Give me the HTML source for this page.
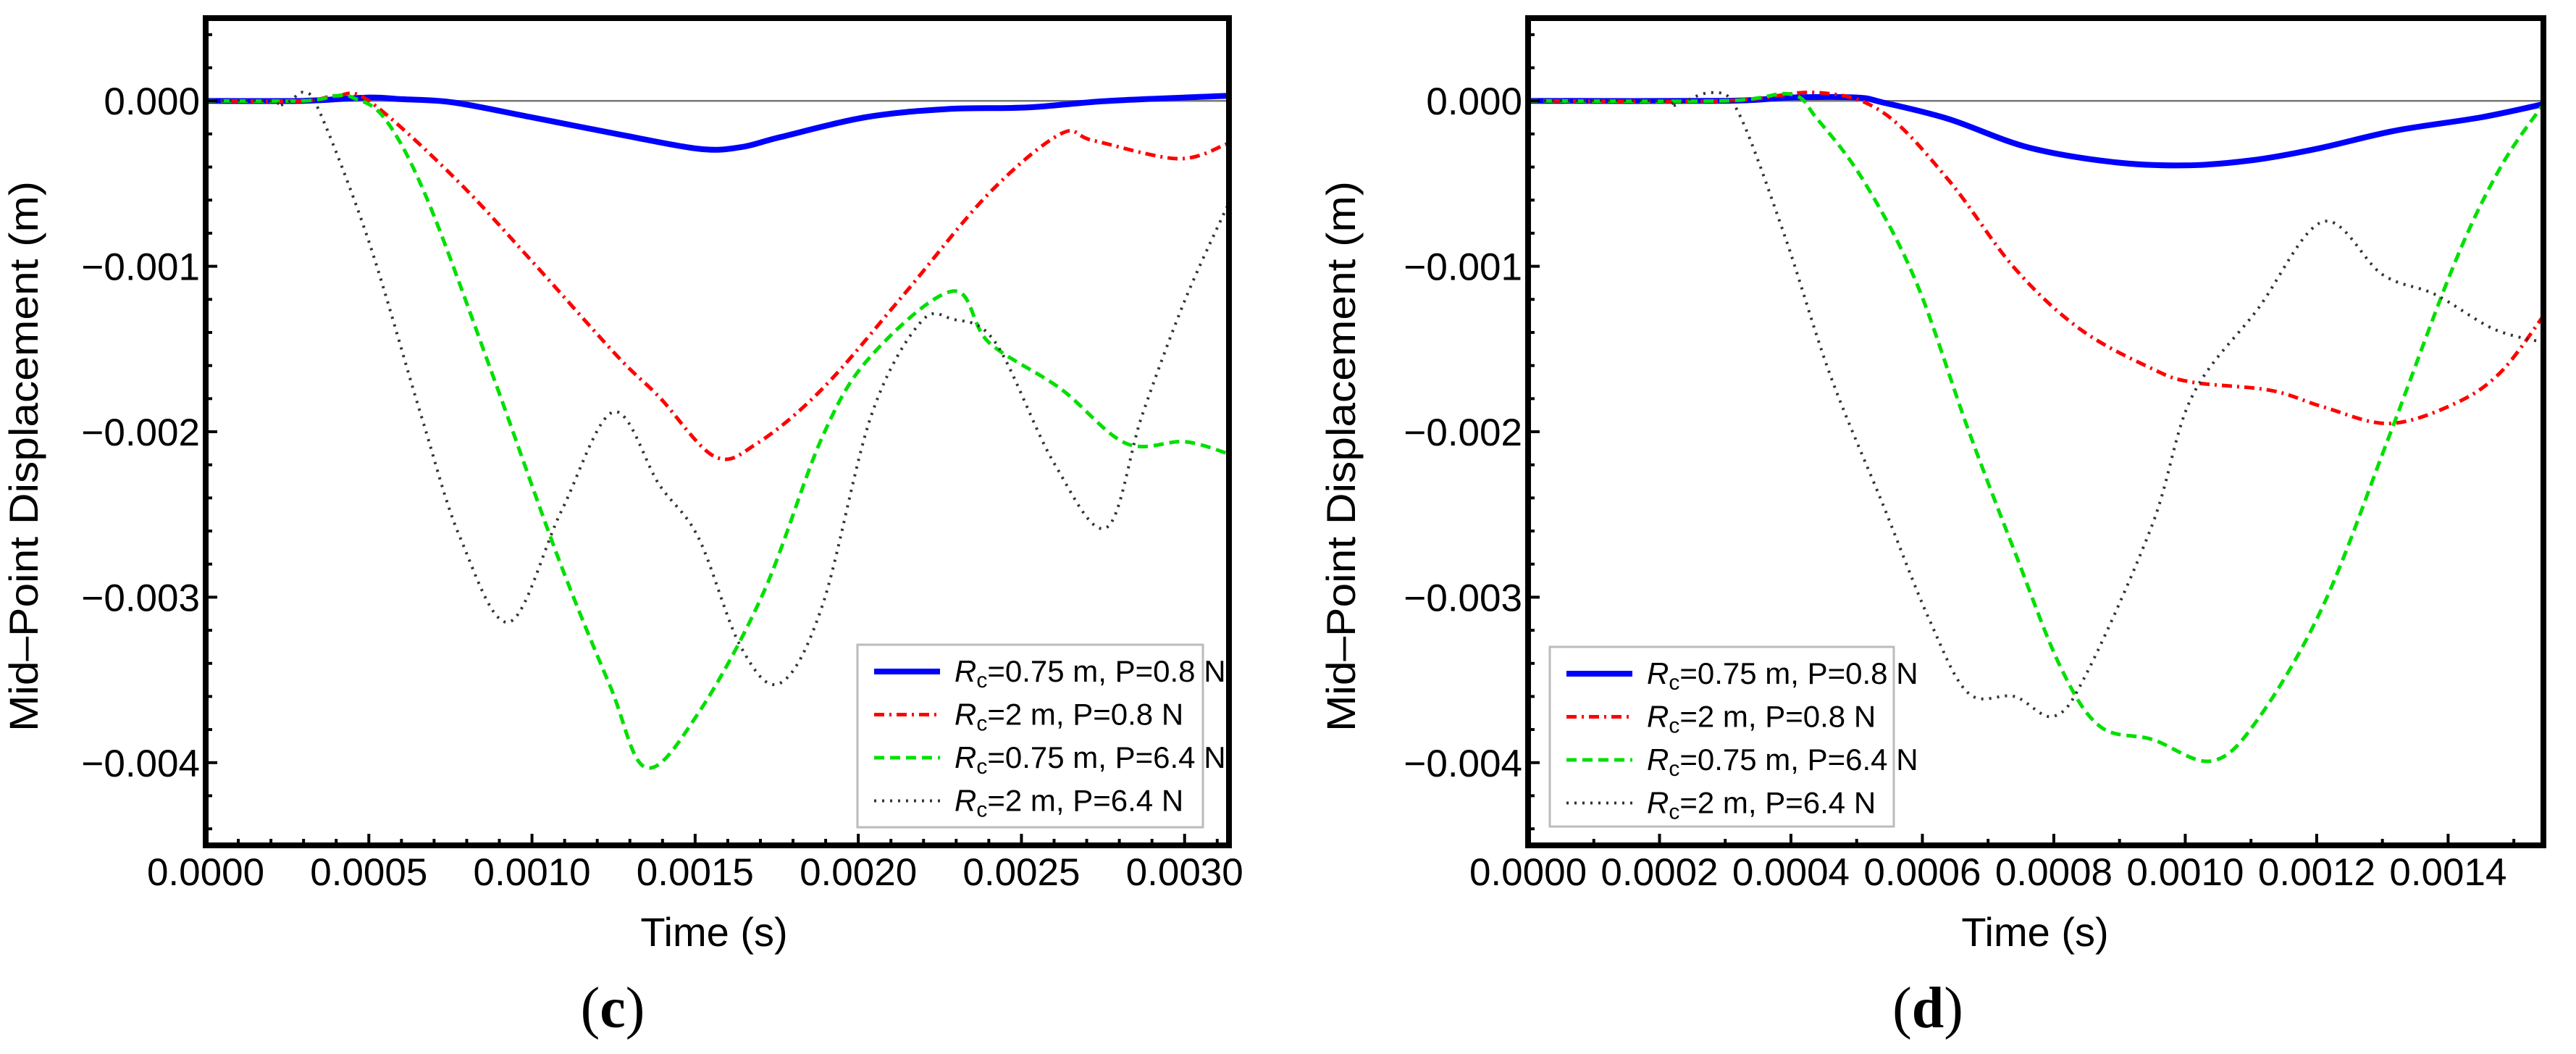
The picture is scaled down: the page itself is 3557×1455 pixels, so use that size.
<!DOCTYPE html>
<html><head><meta charset="utf-8"><style>
html,body{margin:0;padding:0;background:#fff;}
svg{display:block;font-family:"Liberation Sans",sans-serif;}
</style></head><body>
<svg id="chart" width="3557" height="1455" viewBox="0 0 3557 1455" xmlns="http://www.w3.org/2000/svg"></svg>
<script>
// ---------- data (panel c) ----------
const cBlueX=[0,0.0003,0.0005,0.0006,0.00076,0.001,0.00126,0.00151,0.00164,0.00176,0.00202,0.00227,0.00252,0.00277,0.00313];
const cBlueY=[0,0,0.00002,0.00001,-0.00001,-0.0001,-0.0002,-0.00029,-0.00028,-0.00022,-0.0001,-0.00005,-0.00004,0,0.00003];
const cRedX=[0,0.0003,0.0004,0.0005,0.00076,0.001,0.00126,0.00139,0.00156,0.00169,0.00189,0.00214,0.0024,0.00262,0.00272,0.00298,0.00313];
const cRedY=[0,0,0.00003,0,-0.00046,-0.00097,-0.00154,-0.00179,-0.00215,-0.00207,-0.00174,-0.00117,-0.00056,-0.0002,-0.00024,-0.00035,-0.00026];
const cGreenX=[0,0.0003,0.0004,0.00045,0.00055,0.00068,0.00088,0.00108,0.00124,0.00135,0.00151,0.00171,0.00189,0.00204,0.00229,0.0024,0.00262,0.00282,0.003,0.00313];
const cGreenY=[0,0,0.00003,0.00002,-0.00011,-0.0006,-0.00166,-0.00276,-0.00354,-0.00403,-0.0037,-0.00297,-0.00203,-0.00154,-0.00115,-0.00146,-0.00174,-0.00207,-0.00206,-0.00213];
const cBlackX=[0,0.0002,0.00022,0.00026,0.0003,0.00035,0.0005,0.00066,0.00078,0.00093,0.00109,0.00125,0.00139,0.00151,0.00164,0.00176,0.00189,0.00204,0.00219,0.00229,0.00242,0.0026,0.00276,0.00287,0.003,0.00313];
const cBlackY=[0,0,-0.00003,0,0.00005,-0.00007,-0.00085,-0.0019,-0.00264,-0.00315,-0.00248,-0.00188,-0.00232,-0.00264,-0.0033,-0.00352,-0.00305,-0.0019,-0.00134,-0.00132,-0.00146,-0.00219,-0.00258,-0.0019,-0.00121,-0.00064];
// ---------- data (panel d) ----------
const dBlueX=[0,0.0003,0.0004,0.0005,0.00054,0.00064,0.00076,0.00089,0.001,0.0011,0.0012,0.00132,0.00145,0.001545];
const dBlueY=[0,0,0.00002,0.00002,-0.00001,-0.00011,-0.00028,-0.00037,-0.00039,-0.00036,-0.00029,-0.00018,-0.0001,-0.00002];
const dRedX=[0,0.0003,0.00044,0.00054,0.00064,0.00074,0.00084,0.00095,0.00101,0.00113,0.00121,0.00131,0.00141,0.00148,0.001545];
const dRedY=[0,0,0.00005,-0.00007,-0.00048,-0.00101,-0.00138,-0.00162,-0.0017,-0.00175,-0.00185,-0.00195,-0.00183,-0.00164,-0.0013];
const dGreenX=[0,0.0003,0.0004,0.00044,0.00051,0.00059,0.00067,0.00074,0.00081,0.00087,0.00095,0.00104,0.00111,0.00121,0.00131,0.00141,0.00148,0.001545];
const dGreenY=[0,0,0.00004,-0.00011,-0.00048,-0.00109,-0.00199,-0.00272,-0.00342,-0.00378,-0.00386,-0.00399,-0.00374,-0.00305,-0.00203,-0.00098,-0.0004,-0.00002];
const dBlackX=[0,0.0002,0.00022,0.00028,0.00032,0.00039,0.00046,0.00054,0.00061,0.00067,0.00074,0.0008,0.00085,0.00095,0.00101,0.00111,0.00121,0.0013,0.00138,0.00147,0.001545];
const dBlackY=[0,0,-0.00003,0.00005,-0.00007,-0.00081,-0.00166,-0.00244,-0.00313,-0.00358,-0.0036,-0.00372,-0.00346,-0.00256,-0.00179,-0.00126,-0.00073,-0.00105,-0.00117,-0.00138,-0.00146];
const cXTicks=["0.0000","0.0005","0.0010","0.0015","0.0020","0.0025","0.0030"];
const dXTicks=["0.0000","0.0002","0.0004","0.0006","0.0008","0.0010","0.0012","0.0014"];
const yTicks=["0.000","−0.001","−0.002","−0.003","−0.004"];
const legendLabels=[["0.75 m, P=0.8 N"],["2 m, P=0.8 N"],["0.75 m, P=6.4 N"],["2 m, P=6.4 N"]];

const NS="http://www.w3.org/2000/svg";
const svg=document.getElementById('chart');
function mk(tag,attrs,parent){const e=document.createElementNS(NS,tag);for(const k in attrs)e.setAttribute(k,attrs[k]);(parent||svg).appendChild(e);return e;}

const styles=[
 {stroke:"#0000ff",w:8,dash:""},
 {stroke:"#ff0000",w:5,dash:"14 7 3 7"},
 {stroke:"#00e000",w:5,dash:"14 8"},
 {stroke:"#333333",w:4,dash:"3 8"}
];
const names=["series-rc075-p08","series-rc2-p08","series-rc075-p64","series-rc2-p64"];

function smoothPath(pts){
 let d="M"+pts[0][0].toFixed(1)+","+pts[0][1].toFixed(1);
 for(let i=0;i<pts.length-1;i++){
  const p0=pts[i-1]||pts[i],p1=pts[i],p2=pts[i+1],p3=pts[i+2]||p2;
  const c1=[p1[0]+(p2[0]-p0[0])/6,p1[1]+(p2[1]-p0[1])/6];
  const c2=[p2[0]-(p3[0]-p1[0])/6,p2[1]-(p3[1]-p1[1])/6];
  d+=" C"+c1[0].toFixed(1)+","+c1[1].toFixed(1)+" "+c2[0].toFixed(1)+","+c2[1].toFixed(1)+" "+p2[0].toFixed(1)+","+p2[1].toFixed(1);
 }
 return d;
}

function panel(cfg){
 const g=mk('g',{});
 
 
 const {L,R,T,B,xmax,ymin,ymax}=cfg;
 const sx=v=>L+(v/xmax)*(R-L);
 const sy=v=>T+(ymax-v)/(ymax-ymin)*(B-T);
 const clip=mk('clipPath',{id:cfg.name+'-clip'},g);
 mk('rect',{x:L,y:T,width:R-L,height:B-T},clip);
 const zl=mk('line',{x1:L,x2:R,y1:sy(0),y2:sy(0),stroke:"#777",'stroke-width':2.5},g);
 
 
 const sg=mk('g',{'clip-path':'url(#'+cfg.name+'-clip)'},g);
 cfg.series.forEach((s,i)=>{
  const pts=s[0].map((x,j)=>[sx(x),sy(s[1][j])]);
  const st=styles[i];
  const p=mk('path',{d:smoothPath(pts),fill:"none",stroke:st.stroke,'stroke-width':st.w,'stroke-dasharray':st.dash,'stroke-linejoin':'round'},sg);
  
  
 });
 for(let v=0;v<=xmax+1e-12;v+=cfg.xminor){
  const k=Math.round(v/cfg.xminor);const major=k%cfg.xratio===0;
  mk('line',{x1:sx(v),x2:sx(v),y1:B,y2:B-(major?16:9),stroke:"#000",'stroke-width':4},g);
 }
 for(let v=ymax;v>=ymin-1e-12;v-=0.0001){
  const k=Math.round(v/0.0001);if(k%2)continue;const major=k%10===0;
  mk('line',{x1:L,x2:L+(major?16:9),y1:sy(v),y2:sy(v),stroke:"#000",'stroke-width':4},g);
 }
 cfg.xticks.forEach((lab,i)=>{
  const t=mk('text',{x:sx(parseFloat(lab)),y:1222,'font-size':53,'text-anchor':'middle',fill:"#000"},g);
  t.textContent=lab;
  
  
 });
 yTicks.forEach((lab)=>{
  const v=parseFloat(lab.replace('−','-'));
  const t=mk('text',{x:cfg.ylabX,y:sy(v)+19,'font-size':53,'text-anchor':'end',fill:"#000"},g);
  t.textContent=lab;
  
  
 });
 const fr=mk('rect',{x:L,y:T,width:R-L,height:B-T,fill:"none",stroke:"#000",'stroke-width':8},g);
 
 
 const xt=mk('text',{x:cfg.xTitleX,y:1306,'font-size':56,'text-anchor':'middle',fill:"#000"},g);
 xt.textContent="Time (s)";
 
 
 const yt=mk('text',{x:0,y:0,'font-size':56,'text-anchor':'middle',fill:"#000",textLength:760,lengthAdjust:'spacingAndGlyphs',transform:'translate('+(cfg.yTitleX+20)+',630) rotate(-90)'},g);
 yt.textContent="Mid–Point Displacement (m)";
 
 
 const lg=mk('g',{},g);
 
 
 const lb=cfg.legend;
 mk('rect',{x:lb.x,y:lb.y,width:lb.w,height:lb.h,fill:"#fff",stroke:"#bbb",'stroke-width':3},lg);
 legendLabels.forEach((lab,i)=>{
  const yy=lb.y+37+i*59.5;
  const e=mk('g',{},lg);
  
  
  const st=styles[i];
  mk('line',{x1:lb.x+23,x2:lb.x+114,y1:yy,y2:yy,stroke:st.stroke,'stroke-width':st.w,'stroke-dasharray':st.dash},e);
  const t=mk('text',{x:lb.x+134,y:yy+14,'font-size':42,fill:"#000"},e);
  const r=mk('tspan',{'font-style':'italic'},t);r.textContent="R";
  const sub=mk('tspan',{'font-size':30,dy:8},t);sub.textContent="c";
  const rest=mk('tspan',{dy:-8},t);rest.textContent="="+lab[0];
 });
 const pl=mk('text',{x:cfg.letterX,y:1418,'font-size':80,'text-anchor':'middle',fill:"#000",'font-family':'"Liberation Serif",serif'},g);
 pl.innerHTML='(<tspan font-weight="bold">'+cfg.letter+'</tspan>)';
 
 
}

panel({name:'panel-c',L:284,R:1697,T:25,B:1167,xmax:0.003136,ymin:-0.0045,ymax:0.0005,xminor:0.0001,xratio:5,xticks:cXTicks,ylabX:276,
 xTitleX:986,yTitleX:32,letterX:846,letter:'c',legend:{x:1184,y:890,w:477,h:252},
 series:[[cBlueX,cBlueY],[cRedX,cRedY],[cGreenX,cGreenY],[cBlackX,cBlackY]]});
panel({name:'panel-d',L:2110,R:3512,T:25,B:1167,xmax:0.001545,ymin:-0.0045,ymax:0.0005,xminor:0.0001,xratio:2,xticks:dXTicks,ylabX:2102,
 xTitleX:2810,yTitleX:1851,letterX:2662,letter:'d',legend:{x:2140,y:893,w:475,h:248},
 series:[[dBlueX,dBlueY],[dRedX,dRedY],[dGreenX,dGreenY],[dBlackX,dBlackY]]});
</script>
</body></html>
